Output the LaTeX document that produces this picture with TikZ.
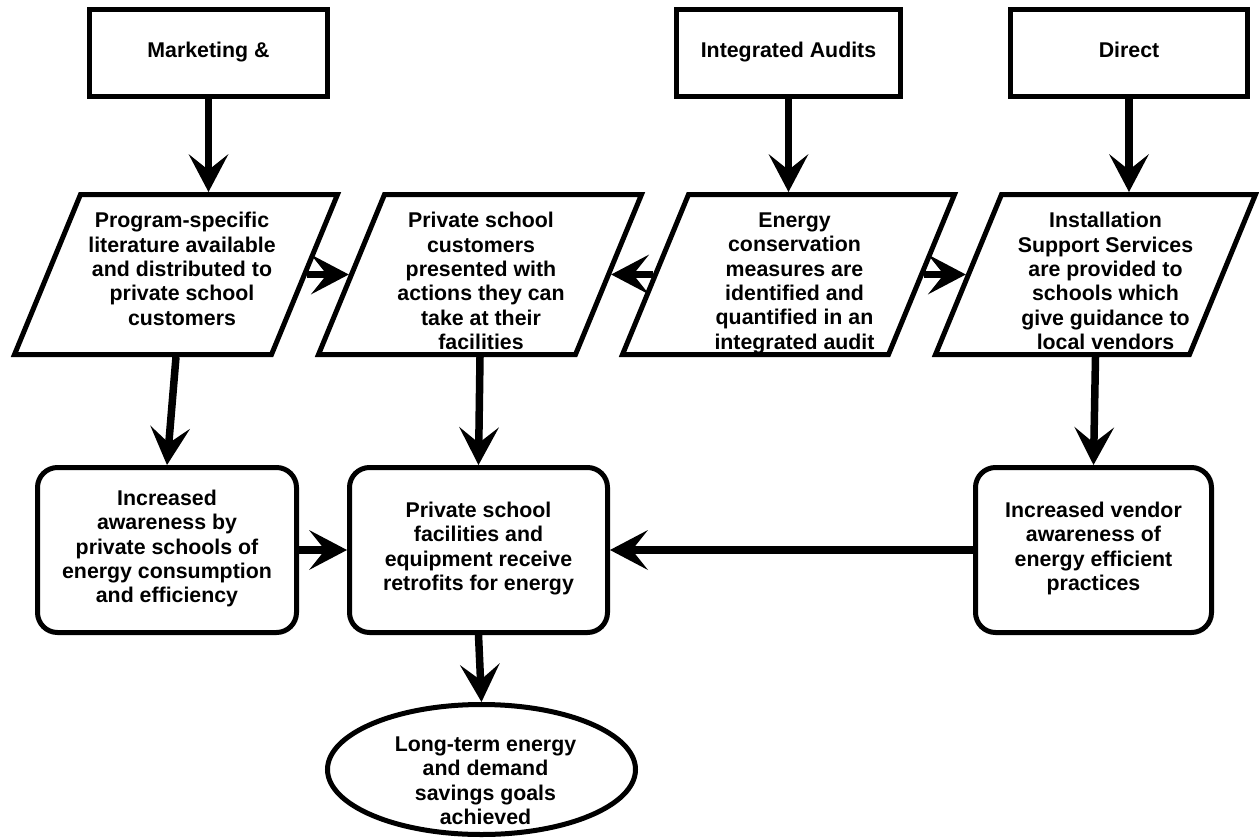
\documentclass[tikz,border=0pt]{standalone}
\usepackage{fontspec}
\setmainfont{Liberation Sans}
\usetikzlibrary{shapes.geometric,arrows.meta}

% slanted output box: #1 name, #2 centre x, #3 overall width (slant 66pt, height 160pt)
\newcommand\slantbox[3]{%
  \coordinate (#1) at (#2,274.5);
  \coordinate (#1-bl) at ({#2-#3/2},354.5);
  \coordinate (#1-br) at ({#2+#3/2-66},354.5);
  \coordinate (#1-tr) at ({#2+#3/2},194.5);
  \coordinate (#1-tl) at ({#2-#3/2+66},194.5);
  \draw[slant] (#1-bl) -- (#1-br) -- (#1-tr) -- (#1-tl) -- cycle;
  \coordinate (#1-e) at ({#2+#3/2-33+2.7},274.5);
  \coordinate (#1-w) at ({#2-#3/2+33-2.7},274.5);
  \coordinate (#1-n) at (#2,192);
  \coordinate (#1-s) at (#2,357);
}

\begin{document}
\begin{tikzpicture}[x=1pt,y=-1pt,
  every node/.style={inner sep=0pt},
  txt/.style={font=\bfseries\fontsize{21.33}{24.4}\selectfont, align=center, text=black,
    execute at begin node=\strut, execute at end node=\strut},
  topbox/.style={txt, draw, line width=5pt, rectangle, minimum height=87pt},
  slant/.style={draw, line width=5pt},
  rbox/.style={txt, draw, line width=5pt, rectangle, rounded corners=20pt, minimum height=165pt},
  goal/.style={draw, line width=5pt, ellipse, minimum width=308pt, minimum height=130pt},
  flow/.style={line width=7.5pt, -{Stealth[length=38pt,width=40pt,inset=16pt,line width=0pt]}},
]
\fill[white] (0,0) rectangle (1259,838);
\useasboundingbox (0,0) rectangle (1259,838);

% program activities
\node[topbox, minimum width=238pt] (b1) at (208.5,53) {Marketing \&};
\node[topbox, minimum width=224pt] (b2) at (788.5,53) {Integrated Audits};
\node[topbox, minimum width=237pt] (b3) at (1129,53) {Direct};

% outputs: texts first so the borders pass over their last lines
\node[txt] (t1) at (182,272.4) {Program-specific\\literature available\\and distributed to\\private school\\customers};
\node[txt] (t2) at (481,284.6) {Private school\\customers\\presented with\\actions they can\\take at their\\facilities};
\node[txt] (t3) at (794.5,284.6) {Energy\\conservation\\measures are\\identified and\\quantified in an\\integrated audit};
\node[txt] (t4) at (1105.5,284.6) {Installation\\Support Services\\are provided to\\schools which\\give guidance to\\local vendors};

\slantbox{p1}{176}{323}
\slantbox{p2}{480}{323}
\slantbox{p3}{788.5}{332}
\slantbox{p4}{1095.5}{320}

% short-term outcomes
\node[rbox, minimum width=259pt] (r1) at (167,550) {Increased\\awareness by\\private schools of\\energy consumption\\and efficiency};
\node[rbox, minimum width=258pt] (r2) at (478.5,550) {Private school\\facilities and\\equipment receive\\retrofits for energy};
\node[rbox, minimum width=236pt] (r3) at (1093.5,550) {Increased vendor\\awareness of\\energy efficient\\practices};

% long-term outcome
\node[txt] (tg) at (485.5,784.2) {Long-term energy\\and demand\\savings goals\\achieved};
\node[goal] (g) at (481.5,769.5) {};

% connectors
\draw[flow] (b1.south) -- (b1.south |- p1-n);
\draw[flow] (b2.south) -- (b2.south |- p3-n);
\draw[flow] (b3.south) -- (b3.south |- p4-n);
\draw[flow] (p1-e) -- (p2-w);
\draw[flow] (p3-w) -- (p2-e);
\draw[flow] (p3-e) -- (p4-w);
\draw[flow] (p1-s) -- (r1.north);
\draw[flow] (p2-s) -- (r2.north);
\draw[flow] (p4-s) -- (r3.north);
\draw[flow] (r1.east) -- (r2.west);
\draw[flow] (r3.west) -- (r2.east);
\draw[flow] (r2.south) -- (g.north);
\end{tikzpicture}
\end{document}
